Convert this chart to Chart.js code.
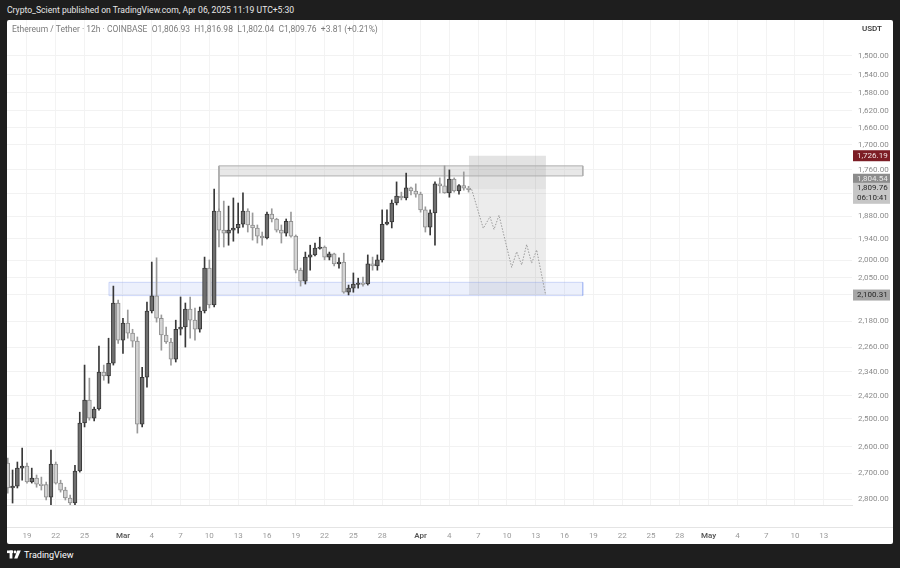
<!DOCTYPE html>
<html>
<head>
<meta charset="utf-8">
<script src="https://cdn.jsdelivr.net/npm/chart.js@4.4.1/dist/chart.umd.min.js"></script>
<style>
  html, body { margin: 0; padding: 0; width: 900px; height: 568px; overflow: hidden; background: #1e1e1e; font-family: Roboto, "Noto Sans", sans-serif; }
  #hdr { position: absolute; left: 7px; top: 5px; color: #e8e8e8; font-size: 8.6px; white-space: nowrap; }
  #panel { position: absolute; left: 7px; top: 20px; width: 886px; height: 524px; background: #fff; border-radius: 2px; overflow: hidden; }
  #panel canvas { position: absolute; left: 0; top: 0; }
  #legend { position: absolute; left: 5px; top: 4px; color: #7b7b7b; font-size: 8.5px; white-space: pre; z-index: 2; }
  #unit { position: absolute; left: 855px; top: 4px; color: #333; font-size: 8px; font-weight: 500; z-index: 2; }
  #sep { position: absolute; left: 0; top: 507px; width: 886px; height: 1px; background: #e4e4e4; z-index: 2; }
  #foot { position: absolute; left: 7px; top: 550px; color: #fff; font-size: 9px; white-space: nowrap; }
  #foot svg { vertical-align: -1px; margin-right: 3px; }
</style>
</head>
<body>
<div id="hdr">Crypto_Scient published on TradingView.com, Apr 06, 2025 11:19 UTC+5:30</div>
<div id="panel">
  <div id="legend">Ethereum / Tether · 12h · COINBASE  O1,806.93  H1,816.98  L1,802.04  C1,809.76  +3.81 (+0.21%)</div>
  <div id="unit">USDT</div>
  <canvas id="chart" width="886" height="524"></canvas>
  <div id="sep"></div>
</div>
<div id="foot"><svg width="14" height="9" viewBox="0 0 14 9"><rect x="0" y="0.5" width="6" height="2.6" fill="#fff"/><rect x="2.6" y="0.5" width="2.8" height="8" fill="#fff"/><circle cx="8" cy="2" r="1.4" fill="#fff"/><polygon points="10.2,0.5 13.8,0.5 10.4,8.5 7.2,8.5" fill="#fff"/></svg>TradingView</div>

<script>
// * candles, 12h, from Feb 17 2025
const opens = [2661, 2756, 2749, 2680, 2672, 2733, 2718, 2741, 2743, 2792,
  2665, 2737, 2764, 2795, 2815, 2691, 2515, 2435, 2498, 2466,
  2341, 2354, 2312, 2124, 2238, 2185, 2216, 2241, 2519, 2358,
  2148, 2103, 2170, 2222, 2244, 2299, 2204, 2197, 2142, 2176,
  2204, 2148, 2022, 2130, 1866, 1917, 1925, 1917, 1911, 1901,
  1866, 1903, 1911, 1933, 1938, 1874, 1887, 1917, 1925, 1893,
  1933, 2028, 2060, 1991, 1985, 1966, 1963, 1991, 1982, 2010,
  2005, 2092, 2080, 2068, 2065, 2068, 2010, 2016, 1999, 1901,
  1895, 1845, 1827, 1832, 1806, 1814, 1822, 1863, 1909, 1871,
  1796, 1801, 1819, 1784, 1814, 1800, 1806.93];
const highs = [2776, 2815, 2756, 2726, 2737, 2737, 2753, 2764, 2803, 2835,
  2741, 2772, 2803, 2823, 2831, 2695, 2529, 2505, 2508, 2470,
  2368, 2378, 2318, 2248, 2280, 2232, 2260, 2551, 2529, 2391,
  2154, 2182, 2270, 2248, 2318, 2308, 2222, 2260, 2232, 2238,
  2213, 2154, 2139, 2136, 1963, 1963, 1958, 1947, 1925, 1909,
  1922, 1944, 1952, 1958, 1941, 1895, 1922, 1952, 1933, 1936,
  2036, 2074, 2068, 2028, 1988, 1969, 1999, 1999, 2016, 2022,
  2095, 2100, 2092, 2080, 2074, 2071, 2028, 2028, 2005, 1903,
  1911, 1850, 1837, 1837, 1824, 1830, 1869, 1922, 1930, 1958,
  1819, 1820, 1830, 1817, 1822, 1812, 1816.98];
const lows = [2642, 2687, 2657, 2605, 2661, 2680, 2706, 2714, 2733, 2613,
  2657, 2726, 2753, 2784, 2669, 2477, 2318, 2361, 2459, 2257,
  2318, 2232, 2074, 2115, 2170, 2145, 2204, 2228, 2325, 2121,
  2005, 1993, 2160, 2197, 2232, 2176, 2106, 2124, 2106, 2139,
  2136, 1991, 1999, 1809, 1860, 1840, 1853, 1832, 1845, 1819,
  1860, 1871, 1903, 1922, 1869, 1860, 1885, 1903, 1887, 1869,
  1930, 2022, 1977, 1958, 1952, 1936, 1960, 1977, 1980, 1993,
  1980, 2071, 2036, 2051, 2048, 1985, 1991, 1985, 1863, 1863,
  1837, 1791, 1817, 1769, 1804, 1796, 1817, 1855, 1863, 1791,
  1781, 1751, 1761, 1781, 1798, 1766, 1802.04];
const closes = [2756, 2749, 2680, 2672, 2733, 2718, 2741, 2743, 2792, 2665,
  2737, 2764, 2795, 2815, 2691, 2515, 2435, 2498, 2466, 2341,
  2354, 2312, 2124, 2238, 2185, 2216, 2241, 2519, 2358, 2148,
  2103, 2170, 2222, 2244, 2299, 2204, 2197, 2142, 2176, 2204,
  2148, 2022, 2130, 1866, 1917, 1925, 1917, 1911, 1901, 1866,
  1903, 1911, 1933, 1938, 1874, 1887, 1917, 1925, 1893, 1933,
  2028, 2060, 1991, 1985, 1966, 1963, 1991, 1982, 2010, 2005,
  2092, 2080, 2068, 2065, 2068, 2010, 2016, 1999, 1901, 1895,
  1845, 1827, 1832, 1806, 1814, 1822, 1863, 1909, 1871, 1796,
  1801, 1819, 1784, 1814, 1800, 1806.93, 1809.76];
// day of each candle, counted from Feb 17
const candleDay = opens.map((_, i) => i / 2);

// * drawings: zones (resistance, support, stop part, target part)
const zoneStart = [22.0, 10.54, 48.04, 48.04];
const zoneEnd = [59.9, 59.9, 56.06, 56.06];
const zoneTop = [1751, 2063, 1726.19, 1809.76];
const zoneBottom = [1776, 2102, 1809.76, 2100.31];
// ? projected path
const projDay = [48.32, 49.53, 50.23, 50.65, 51.17, 52.49, 53.01, 53.53, 54.05, 54.57, 55.09, 56.03];
const projPrice = [1809.76, 1912, 1881, 1915, 1877, 2020, 1976, 2013, 1956, 2008, 1971, 2100.31];

// * axes
const yTicks = [1500, 1540, 1580, 1620, 1660, 1700, 1760, 1820, 1880, 1940, 2000,
  2050, 2100, 2180, 2260, 2340, 2420, 2500, 2600, 2700, 2800];
const xTickDates = ["2025-02-19", "2025-02-22", "2025-02-25", "2025-03-01", "2025-03-04",
  "2025-03-07", "2025-03-10", "2025-03-13", "2025-03-16", "2025-03-19", "2025-03-22",
  "2025-03-25", "2025-03-28", "2025-04-01", "2025-04-04", "2025-04-07", "2025-04-10",
  "2025-04-13", "2025-04-16", "2025-04-19", "2025-04-22", "2025-04-25", "2025-04-28",
  "2025-05-01", "2025-05-04", "2025-05-07", "2025-05-10", "2025-05-13"];
const xTickLabels = ["19", "22", "25", "Mar", "4", "7", "10", "13", "16", "19", "22",
  "25", "28", "Apr", "4", "7", "10", "13", "16", "19", "22", "25", "28", "May", "4",
  "7", "10", "13"];
const badgePrices = [1726.19, 1804.54, 1809.76, 2100.31];
const badgeTexts = [["1,726.19"], ["1,804.54"], ["1,809.76", "06:10:41"], ["2,100.31"]];

const day0 = Date.parse("2025-02-17");
const xTickDays = xTickDates.map((d) => (Date.parse(d) - day0) / 864e5);
const isDown = opens.map((o, i) => closes[i] < o);

function zoneSet(i, fillColor, lineColor, order) {
  return {
    type: "line",
    data: [
      { x: zoneStart[i], y: zoneTop[i] },
      { x: zoneEnd[i], y: zoneTop[i] },
      { x: zoneEnd[i], y: zoneBottom[i] },
      { x: zoneStart[i], y: zoneBottom[i] },
      { x: zoneStart[i], y: zoneTop[i] },
    ],
    fill: "shape",
    backgroundColor: fillColor,
    borderColor: lineColor,
    borderWidth: lineColor ? 1 : 0,
    pointRadius: 0,
    tension: 0,
    order: order,
  };
}

// no extra room for edge labels, the pane fills the canvas
function noPad(s) {
  s.paddingLeft = 0;
  s.paddingRight = 0;
  s.paddingTop = 0;
  s.paddingBottom = 0;
}

const badgePlugin = {
  id: "badges",
  afterDraw(chart) {
    const ctx = chart.ctx;
    const ys = chart.scales.y;
    const left = chart.chartArea.right;
    const styles = [
      { bg: "#7c1d25", fg: "#f3e4e4", shift: 0 },
      { bg: "#8c8c8c", fg: "#e9e9e9", shift: -8 },
      { bg: "#c6c6c6", fg: "#2a2a2a", shift: 4 },
      { bg: "#a5a5a5", fg: "#262626", shift: 0 },
    ];
    ctx.save();
    ctx.font = "8px Roboto";
    ctx.textBaseline = "middle";
    badgePrices.forEach((p, i) => {
      const st = styles[i];
      const lines = badgeTexts[i];
      const h = 10 * lines.length + 1;
      const yc = ys.getPixelForValue(p) + st.shift;
      ctx.fillStyle = st.bg;
      ctx.fillRect(left + 1, yc - h / 2, 37, h);
      ctx.fillStyle = st.fg;
      lines.forEach((t, j) => {
        ctx.fillText(t, left + 5, yc - h / 2 + 5.5 + j * 10);
      });
    });
    ctx.restore();
  },
};

const canvas = document.getElementById("chart");
const chart = new Chart(canvas.getContext("2d"), {
  type: "bar",
  data: {
    datasets: [
      {
        label: "body",
        data: candleDay.map((d, i) => ({ x: d, y: [opens[i], closes[i]] })),
        backgroundColor: isDown.map((dn) => (dn ? "#6e6e6e" : "#d3d3d3")),
        borderColor: isDown.map((dn) => (dn ? "#383838" : "#8e8e8e")),
        borderWidth: 1,
        borderSkipped: false,
        barThickness: 4,
        minBarLength: 1.5,
        grouped: false,
        order: 2,
      },
      {
        label: "wick",
        data: candleDay.map((d, i) => ({ x: d, y: [lows[i], highs[i]] })),
        backgroundColor: isDown.map((dn) => (dn ? "#383838" : "#9a9a9a")),
        borderWidth: 0,
        barThickness: 1,
        grouped: false,
        order: 3,
      },
      zoneSet(2, "rgba(0,0,0,0.11)", null, 9),
      zoneSet(3, "rgba(0,0,0,0.075)", null, 9),
      zoneSet(1, "rgba(110,140,235,0.13)", "rgba(110,140,235,0.3)", 8),
      zoneSet(0, "rgba(190,190,190,0.35)", "#b0b0b0", 7),
      {
        type: "line",
        data: [{ x: zoneStart[0], y: zoneTop[0] }, { x: zoneStart[0], y: closes[43] }],
        borderColor: "#a8a8a8",
        borderWidth: 1,
        pointRadius: 0,
        order: 7,
      },
      {
        type: "line",
        data: projDay.map((d, i) => ({ x: d, y: projPrice[i] })),
        borderColor: "#9a9a9a",
        borderWidth: 1,
        borderDash: [1.5, 1.5],
        pointRadius: 0,
        tension: 0,
        fill: false,
        order: 1,
      },
    ],
  },
  options: {
    responsive: false,
    animation: false,
    events: [],
    layout: { padding: 0 },
    plugins: { legend: { display: false }, tooltip: { enabled: false } },
    scales: {
      x: {
        type: "linear",
        min: -0.08,
        max: 87.94,
        bounds: "data",
        offset: false,
        afterBuildTicks: (s) => {
          s.ticks = xTickDays.map((v) => ({ value: v }));
        },
        afterFit: (s) => {
          s.height = 39;
          noPad(s);
        },
        ticks: {
          autoSkip: false,
          maxRotation: 0,
          padding: 26,
          callback: (v, i) => xTickLabels[i],
          color: (c) => (isNaN(+xTickLabels[c.index]) ? "#5a5a5a" : "#9a9a9a"),
          font: (c) => ({
            family: "Roboto",
            size: 8,
            weight: isNaN(+xTickLabels[c.index]) ? "600" : "400",
          }),
        },
        grid: { color: "#f3f3f3", drawTicks: false, offset: false },
        border: { color: "#e4e4e4" },
      },
      y: {
        type: "logarithmic",
        position: "right",
        reverse: true,
        min: 1425.9,
        max: 2822.8,
        bounds: "data",
        afterBuildTicks: (s) => {
          s.ticks = yTicks.map((v) => ({ value: v }));
        },
        afterFit: (s) => {
          s.width = 41;
          noPad(s);
        },
        ticks: {
          autoSkip: false,
          padding: 6,
          color: "#8c8c8c",
          font: { family: "Roboto", size: 8 },
          callback: (v) =>
            Number(v).toLocaleString("en-US", { minimumFractionDigits: 2, maximumFractionDigits: 2 }),
        },
        grid: { color: "#f2f2f2", drawTicks: false },
        border: { display: false },
      },
    },
  },
  plugins: [badgePlugin],
});
</script>
</body>
</html>
